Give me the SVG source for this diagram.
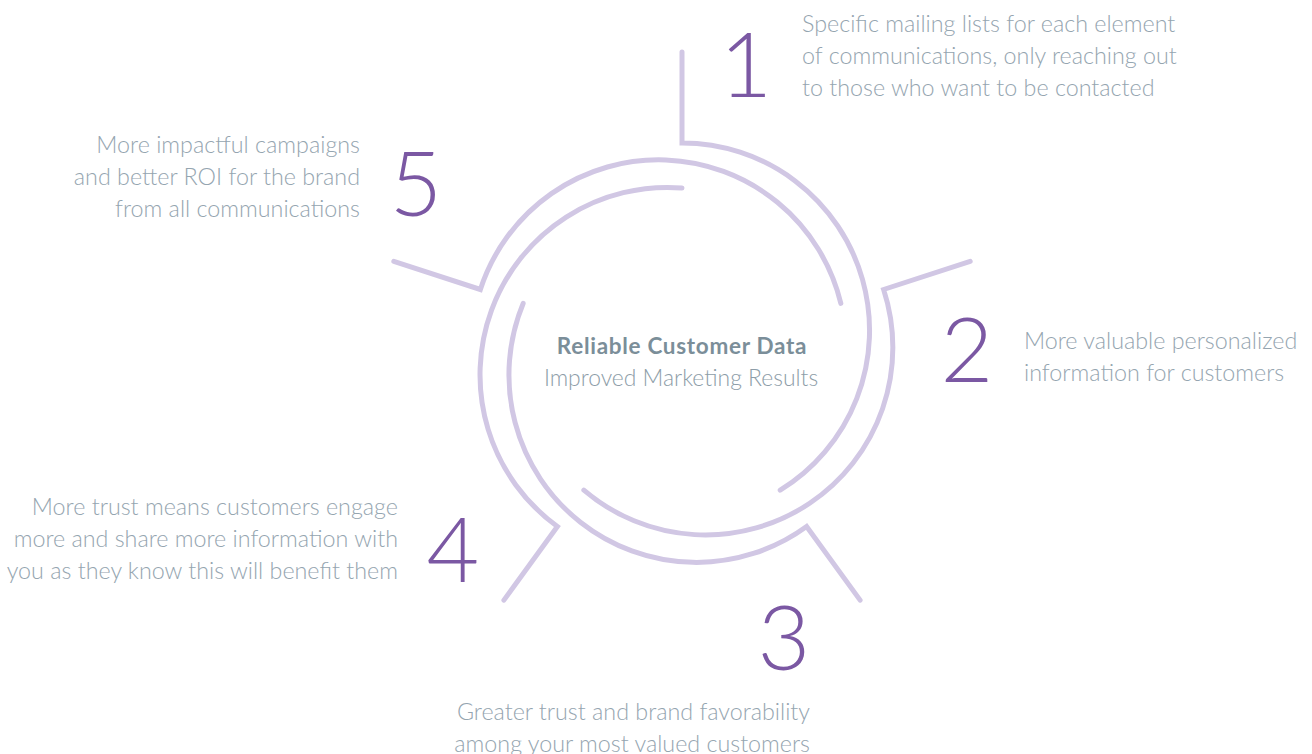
<svg xmlns="http://www.w3.org/2000/svg" width="1312" height="754" viewBox="0 0 1312 754">
<style>
.arc{fill:none;stroke:#d1c7e4;stroke-width:5;stroke-linecap:round;stroke-linejoin:miter}
.num{font-family:Lato,"Open Sans",sans-serif;font-weight:300;font-size:91px;fill:#7b58a3;text-anchor:middle}
.txt{font-family:Lato,"Open Sans",sans-serif;font-weight:300;font-size:23.3px;fill:#95a5b0}
.r{text-anchor:end}
.title{font-family:Lato,"Open Sans",sans-serif;font-weight:700;font-size:22.5px;letter-spacing:0.7px;fill:#7b8e99;text-anchor:middle}
.sub{font-family:Lato,"Open Sans",sans-serif;font-weight:300;font-size:22.9px;fill:#8d9da8;text-anchor:middle}
</style>
<defs>
<path id="seg" d="M682 52 V143 A187.4 187.4 0 0 1 780.2 490.1"/>
</defs>
<g id="ring">
<use href="#seg" class="arc"/>
<use href="#seg" class="arc" transform="rotate(72 682 355)"/>
<use href="#seg" class="arc" transform="rotate(144 682 355)"/>
<use href="#seg" class="arc" transform="rotate(216 682 355)"/>
<use href="#seg" class="arc" transform="rotate(288 682 355)"/>
</g>
<g id="center">
<text class="title" x="682" y="354">Reliable Customer Data</text>
<text class="sub" x="681" y="386">Improved Marketing Results</text>
</g>
<g id="step1">
<text class="num" x="746" y="97">1</text>
<text class="txt" x="802" y="32">Specific mailing lists for each element</text>
<text class="txt" x="802" y="64">of communications, only reaching out</text>
<text class="txt" x="802" y="96">to those who want to be contacted</text>
</g>
<g id="step2">
<text class="num" x="967" y="382">2</text>
<text class="txt" x="1024" y="349">More valuable personalized</text>
<text class="txt" x="1024" y="381">information for customers</text>
</g>
<g id="step3">
<text class="num" x="784" y="670">3</text>
<text class="txt r" x="810" y="720">Greater trust and brand favorability</text>
<text class="txt r" x="810" y="752">among your most valued customers</text>
</g>
<g id="step4">
<text class="num" x="453" y="582">4</text>
<text class="txt r" x="398" y="515">More trust means customers engage</text>
<text class="txt r" x="398" y="547">more and share more information with</text>
<text class="txt r" x="398" y="579">you as they know this will benefit them</text>
</g>
<g id="step5">
<text class="num" x="416" y="216">5</text>
<text class="txt r" x="360" y="153">More impactful campaigns</text>
<text class="txt r" x="360" y="185">and better ROI for the brand</text>
<text class="txt r" x="360" y="217">from all communications</text>
</g>
</svg>
